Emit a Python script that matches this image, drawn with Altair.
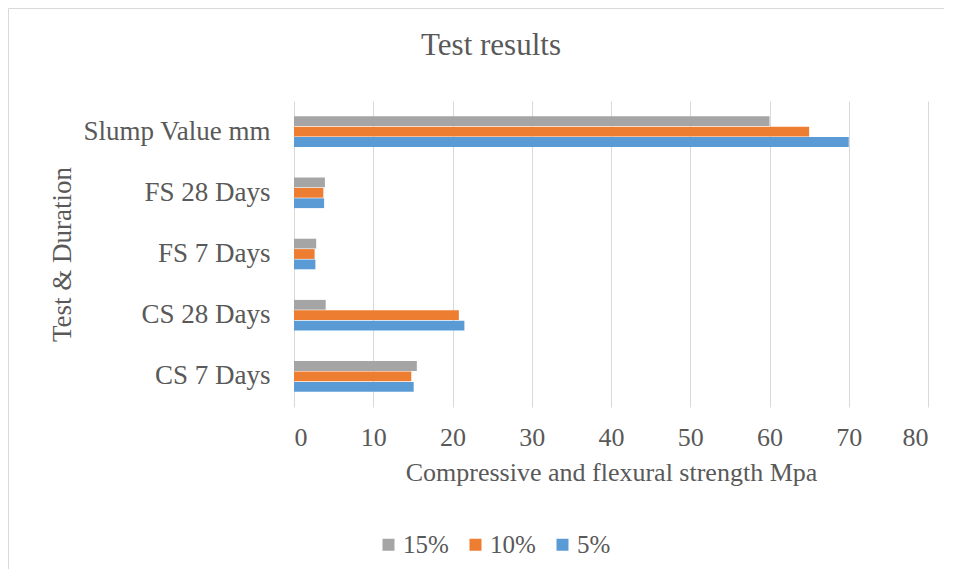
import altair as alt
import pandas as pd

categories = ["Slump Value mm", "FS 28 Days", "FS 7 Days", "CS 28 Days", "CS 7 Days"]
series = ["15%", "10%", "5%"]
values_15 = [60.0, 3.9, 2.8, 4.0, 15.5]
values_10 = [65.0, 3.7, 2.6, 20.8, 14.8]
values_5 = [70.0, 3.8, 2.7, 21.5, 15.1]
colors = ["#a5a5a5", "#ed7d31", "#5b9bd5"]
x_ticks = [0, 10, 20, 30, 40, 50, 60, 70, 80]

rows = []
for s, vals in zip(series, [values_15, values_10, values_5]):
    for c, v in zip(categories, vals):
        rows.append({"test": c, "mix": s, "value": v})
df = pd.DataFrame(rows)

TEXT = "#595959"
FONT = "Liberation Serif"

bars = alt.Chart(df).mark_bar().encode(
    x=alt.X(
        "value:Q",
        scale=alt.Scale(domain=[0, 80], nice=False, zero=True),
        axis=alt.Axis(
            values=x_ticks,
            title="Compressive and flexural strength Mpa",
            grid=True,
            gridColor="#d9d9d9",
            gridWidth=1,
            domain=False,
            ticks=False,
            labelFont=FONT,
            labelColor=TEXT,
            labelFontSize=26,
            labelPadding=17,
            titleFont=FONT,
            titleColor=TEXT,
            titleFontSize=26,
            titlePadding=9,
            titleFontWeight="normal",
        ),
    ),
    y=alt.Y(
        "test:N",
        sort=categories,
        scale=alt.Scale(paddingInner=0.5, paddingOuter=0.25),
        axis=alt.Axis(
            title="Test & Duration",
            domain=False,
            ticks=False,
            grid=False,
            labelFont=FONT,
            labelColor=TEXT,
            labelFontSize=27,
            labelPadding=24,
            labelLimit=0,
            titleFont=FONT,
            titleColor=TEXT,
            titleFontSize=27,
            titlePadding=18,
            titleFontWeight="normal",
        ),
    ),
    yOffset=alt.YOffset("mix:N", sort=series, scale=alt.Scale(domain=series, paddingInner=0.06)),
    color=alt.Color(
        "mix:N",
        sort=series,
        scale=alt.Scale(domain=series, range=colors),
        legend=alt.Legend(
            title=None,
            orient="none",
            direction="horizontal",
            legendX=82,
            legendY=431,
            symbolType="square",
            symbolSize=144,
            symbolStrokeWidth=0,
            labelFont=FONT,
            labelColor=TEXT,
            labelFontSize=25,
            labelOffset=2,
            columnPadding=14,
            padding=0,
        ),
    ),
)

border = pd.DataFrame({"k": [0]})
left_line = alt.Chart(border).mark_rule(color="#d9d9d9", strokeWidth=1).encode(
    x=alt.value(-285.5), y=alt.value(-92.5), y2=alt.value(470)
)
top_line = alt.Chart(border).mark_rule(color="#d9d9d9", strokeWidth=1).encode(
    x=alt.value(-285.5), x2=alt.value(650), y=alt.value(-92.5)
)

chart = alt.layer(left_line, top_line, bars).properties(
    width=634,
    height=306,
    autosize=alt.AutoSizeParams(type="none"),
    padding={"left": 286, "top": 93, "right": 20, "bottom": 162},
    title=alt.TitleParams(
        "Test results",
        fontSize=31,
        font=FONT,
        color=TEXT,
        fontWeight="normal",
        anchor="middle",
        frame="group",
        dx=-120,
        offset=-54,
    ),
).configure(
    font=FONT,
).configure_view(
    stroke=None,
)

chart.save("out.html", embed_options={"renderer": "svg", "actions": False})
